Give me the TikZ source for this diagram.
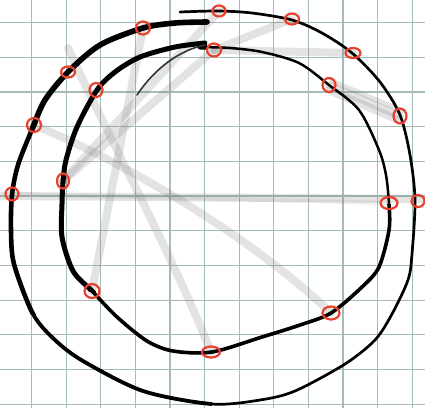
\documentclass[tikz,border=0pt]{standalone}
\usetikzlibrary{calc}
\definecolor{gridline}{HTML}{A7BCB5}
\definecolor{markred}{HTML}{E8402C}
\tikzset{
  gridl/.style={gridline, line width=1.2pt},
  ink/.style={black, line cap=round, line join=round},
  ghost/.style={gray, opacity=0.22, line width=8pt, line cap=round},
  ring/.style={markred, line width=2.2pt},
}
\newcommand{\outerloop}{plot[smooth] coordinates {
  (207,22) (175,23) (143,28) (100,45) (68,72) (45,100) (33,127) (18,165)
  (12,195) (11,230) (14,264) (33,314) (55,340) (83,361) (143,391) (212,404)
  (260,400) (295,391) (345,364) (375,340) (392,314) (408,280) (412,254)
  (415,200) (410,155) (400,115) (380,82) (352,53) (322,33) (292,20)
  (252,13) (218,11) (180,12)}}
\newcommand{\innerloop}{plot[smooth] coordinates {
  (205,43) (175,47) (140,57) (115,72) (97,90) (77,127) (66,160) (63,182)
  (62,204) (62,237) (73,271) (92,291) (117,317) (147,341) (173,351)
  (212,352) (262,337) (300,325) (331,313) (362,287) (379,267) (389,230)
  (389,204) (386,175) (379,150) (359,110) (329,85) (299,63) (262,52)
  (230,48) (200,47)}}

\begin{document}
\begin{tikzpicture}[x=1pt, y=-1pt]
\useasboundingbox (0,0) rectangle (425,408);
\fill[white] (0,0) rectangle (425,408);
\foreach \k in {0,...,11} {
  \draw[gridl] ({31.5+34.6*\k},0) -- ({31.5+34.6*\k},408);
  \draw[gridl] (0,{22.5+34.7*\k}) -- (425,{22.5+34.7*\k});
}

\coordinate (o1) at (219,11);
\coordinate (o2) at (292,19);
\coordinate (o3) at (353,53);
\coordinate (o4) at (400,116);
\coordinate (o5) at (418,201);
\coordinate (o6) at (143,28);
\coordinate (o7) at (68,72);
\coordinate (o8) at (34,125);
\coordinate (o9) at (12,194);
\coordinate (i1) at (214,50);
\coordinate (i2) at (329,85);
\coordinate (i3) at (389,203);
\coordinate (i4) at (331,313);
\coordinate (i5) at (211,352);
\coordinate (i6) at (92,291);
\coordinate (i7) at (63,181);
\coordinate (i8) at (96,90);
\coordinate (bstart) at (68,48);
\coordinate (hleft) at (0,196);
\coordinate (hright) at (425,199);

\draw[ghost] (hleft) -- (hright);
\draw[ghost, line width=4pt, opacity=0.12] (o9) -- (i3);
\draw[ghost] (o6) -- (i6);
\draw[ghost] (bstart) .. controls (110,140) and (170,250) .. (i5);
\draw[ghost] (o8) .. controls (120,160) and (250,235) .. (i4);
\draw[ghost] (i7) -- (i1);
\draw[ghost] (i7) -- (o1);
\draw[ghost] (i1) -- (o2);
\draw[ghost] (i1) -- (o3);
\draw[ghost] (i2) -- (o4);
\draw[ghost] ($(i2)+(0,5)$) -- ($(o4)+(-4,3)$);
\draw[ghost, line width=5pt] ($(i2)+(3,-4)$) -- ($(o4)+(2,-5)$);

\draw[ink, line width=2.7pt] \outerloop;
\begin{scope}
  \clip (0,314) rectangle (212,408);
  \draw[ink, line width=3.8pt] \outerloop;
\end{scope}
\begin{scope}
  \clip (0,130) rectangle (212,314);
  \draw[ink, line width=4.6pt] \outerloop;
\end{scope}
\begin{scope}
  \clip (0,17) rectangle (212,130);
  \draw[ink, line width=5.6pt] \outerloop;
\end{scope}

\draw[ink, line width=2.5pt] \innerloop;
\begin{scope}
  \clip (0,291) -- (207,291) -- (207,204) -- (425,204) -- (425,408) -- (0,408) -- cycle;
  \draw[ink, line width=3.6pt] \innerloop;
\end{scope}
\begin{scope}
  \clip (0,0) rectangle (207,291);
  \draw[ink, line width=5pt] \innerloop;
\end{scope}

\draw[ink, line width=1.6pt, black!80] (137,95) .. controls (155,68) and (180,50) .. (205,45);

\foreach \p/\rx/\ry in {o1/6.5/5.5, o2/7/5.5, o3/7.5/5, o4/6.5/7.5, o5/6.5/6, o6/7/6.5,
    o7/7/5.5, o8/7/7, o9/6.5/6.5, i1/7/6.5, i2/6.5/7, i3/8.5/6, i4/8.5/6.5,
    i5/9/5.5, i6/7.5/7, i7/6/7.5, i8/6.5/7}
  \draw[ring] (\p) ellipse ({\rx} and {\ry});
\end{tikzpicture}
\end{document}
